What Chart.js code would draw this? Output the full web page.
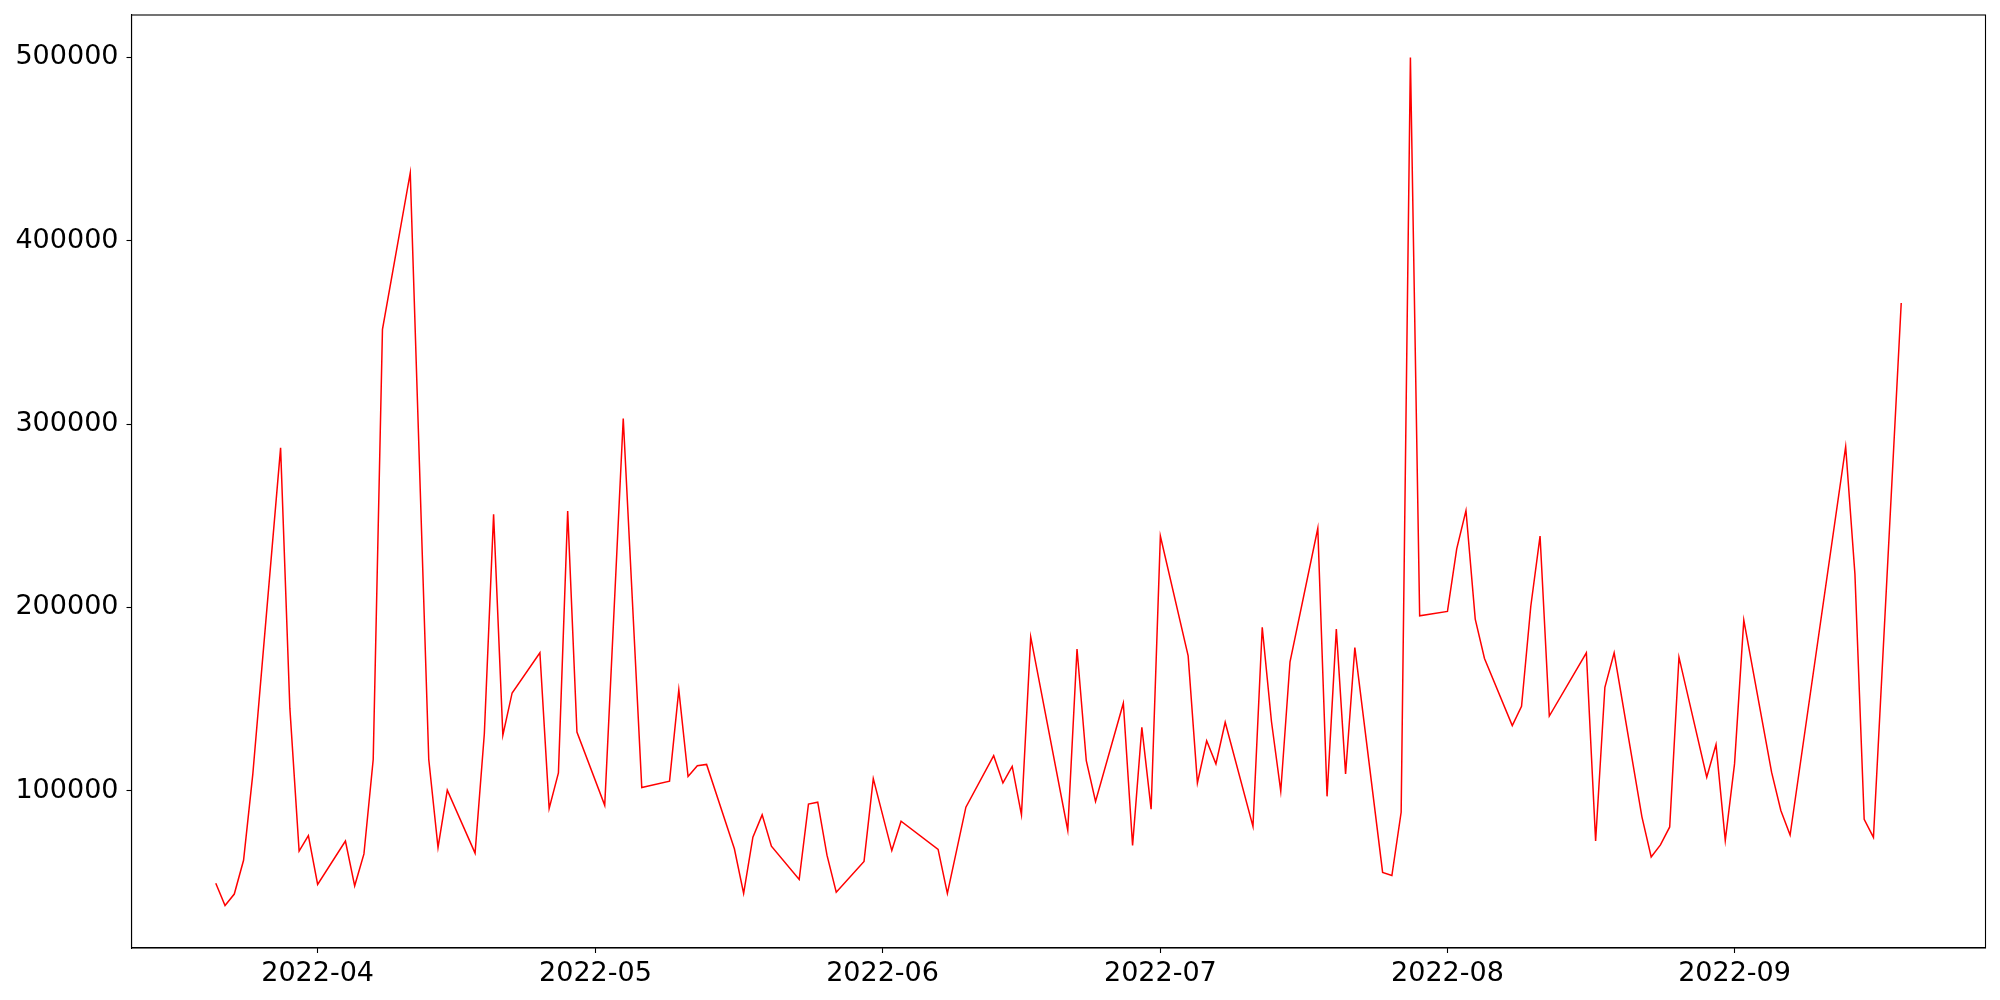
<!DOCTYPE html>
<html>
<head>
<meta charset="utf-8">
<script src="https://cdn.jsdelivr.net/npm/chart.js@4.4.0/dist/chart.umd.min.js"></script>
<style>
  html, body { margin: 0; padding: 0; background: #ffffff; }
  #wrap { width: 2000px; height: 1000px; }
</style>
</head>
<body>
<div id="wrap"><canvas id="c" width="2000" height="1000"></canvas></div>
<script>
const dates = [
  "2022-03-21","2022-03-22","2022-03-23","2022-03-24","2022-03-25","2022-03-28","2022-03-29","2022-03-30","2022-03-31","2022-04-01",
  "2022-04-04","2022-04-05","2022-04-06","2022-04-07","2022-04-08","2022-04-11","2022-04-13","2022-04-14","2022-04-15",
  "2022-04-18","2022-04-19","2022-04-20","2022-04-21","2022-04-22","2022-04-25","2022-04-26","2022-04-27","2022-04-28","2022-04-29",
  "2022-05-02","2022-05-04","2022-05-06","2022-05-09","2022-05-10","2022-05-11","2022-05-12","2022-05-13",
  "2022-05-16","2022-05-17","2022-05-18","2022-05-19","2022-05-20","2022-05-23","2022-05-24","2022-05-25","2022-05-26","2022-05-27",
  "2022-05-30","2022-05-31","2022-06-02","2022-06-03","2022-06-07","2022-06-08","2022-06-10",
  "2022-06-13","2022-06-14","2022-06-15","2022-06-16","2022-06-17","2022-06-21","2022-06-22","2022-06-23","2022-06-24",
  "2022-06-27","2022-06-28","2022-06-29","2022-06-30","2022-07-01","2022-07-04","2022-07-05","2022-07-06","2022-07-07","2022-07-08",
  "2022-07-11","2022-07-12","2022-07-13","2022-07-14","2022-07-15","2022-07-18","2022-07-19","2022-07-20","2022-07-21","2022-07-22",
  "2022-07-25","2022-07-26","2022-07-27","2022-07-28","2022-07-29","2022-08-01","2022-08-02","2022-08-03","2022-08-04","2022-08-05",
  "2022-08-08","2022-08-09","2022-08-10","2022-08-11","2022-08-12","2022-08-16","2022-08-17","2022-08-18","2022-08-19",
  "2022-08-22","2022-08-23","2022-08-24","2022-08-25","2022-08-26","2022-08-29","2022-08-30","2022-08-31","2022-09-01","2022-09-02",
  "2022-09-05","2022-09-06","2022-09-07","2022-09-13","2022-09-14","2022-09-15","2022-09-16","2022-09-19"
];
const values = [
  49500, 37300, 43600, 62000, 109000, 287000, 145000, 67000, 75500, 48800,
  72500, 48100, 65500, 117000, 351700, 437000, 117000, 69000, 100300,
  65900, 131000, 250700, 130300, 153300, 175200, 90300, 109700, 252500, 132000,
  92000, 303000, 101700, 105200, 155000, 107700, 113600, 114300,
  68300, 44000, 74600, 86800, 69700, 51600, 92700, 93700, 64800, 44600,
  61400, 106600, 67300, 83300, 68000, 44000, 91000,
  119100, 104200, 113200, 86800, 183900, 78400, 177300, 116400, 94100,
  147700, 70100, 134500, 89900, 238900, 173500, 104200, 127200, 114600, 137300,
  80500, 189100, 137600, 99700, 170300, 243100, 96900, 188100, 109100, 178000,
  55400, 53700, 88200, 500000, 195400, 197800, 231900, 252800, 193600, 172100,
  135500, 146000, 200600, 238900, 140700, 175200, 72500, 156400, 175200,
  85700, 63800, 70400, 80200, 172800, 107300, 125100, 72800, 114600, 193000,
  110100, 89200, 75800, 287600, 218200, 84400, 74500, 366000
];
const xTickLabels = ["2022-04","2022-05","2022-06","2022-07","2022-08","2022-09"];
const yTickValues = [100000, 200000, 300000, 400000, 500000];

const toTs = s => { const p = s.split("-").map(Number); return Date.UTC(p[0], p[1]-1, p[2] || 1); };
const points = dates.map((d, i) => ({ x: toTs(d), y: values[i] }));
const xTickValues = xTickLabels.map(toTs);

const xs = points.map(p => p.x), ys = values;
const xMin0 = Math.min(...xs), xMax0 = Math.max(...xs);
const yMin0 = Math.min(...ys), yMax0 = Math.max(...ys);
const xm = (xMax0 - xMin0) * 0.05, ym = (yMax0 - yMin0) * 0.05;

const fmtMonth = v => { const d = new Date(v); return d.getUTCFullYear() + "-" + String(d.getUTCMonth()+1).padStart(2,"0"); };

const frame = {
  id: "frame",
  afterDraw(chart) {
    const a = chart.chartArea, ctx = chart.ctx;
    ctx.save();
    ctx.strokeStyle = "#000";
    ctx.lineWidth = 1.1;
    ctx.strokeRect(a.left, a.top, a.right - a.left, a.bottom - a.top);
    ctx.restore();
  }
};

const font = { family: "'DejaVu Sans', sans-serif", size: 27 };

new Chart(document.getElementById("c"), {
  type: "line",
  data: {
    datasets: [{
      data: points,
      borderColor: "#ff0000",
      borderWidth: 1.5,
      pointRadius: 0,
      tension: 0,
      fill: false
    }]
  },
  options: {
    responsive: false,
    animation: false,
    devicePixelRatio: 1,
    layout: { padding: { top: 15, right: 14.5, left: 0, bottom: 0 } },
    plugins: { legend: { display: false }, tooltip: { enabled: false } },
    scales: {
      x: {
        type: "linear",
        min: xMin0 - xm,
        max: xMax0 + xm,
        afterBuildTicks: s => { s.ticks = xTickValues.map(v => ({ value: v })); },
        afterFit: s => { s.height = 52; s.paddingLeft = 0; s.paddingRight = 0; },
        ticks: {
          autoSkip: false, maxRotation: 0, minRotation: 0,
          color: "#000", font: font, padding: 5,
          callback: v => fmtMonth(v)
        },
        grid: { drawOnChartArea: false, drawTicks: true, tickLength: 5, color: "#000", tickWidth: 1.1 },
        border: { display: true, color: "#000", width: 1.1 }
      },
      y: {
        type: "linear",
        min: yMin0 - ym,
        max: yMax0 + ym,
        afterBuildTicks: s => { s.ticks = yTickValues.map(v => ({ value: v })); },
        afterFit: s => { s.width = 131.5; s.paddingTop = 0; s.paddingBottom = 0; },
        ticks: {
          color: "#000", font: font, padding: 8,
          callback: v => String(v)
        },
        grid: { drawOnChartArea: false, drawTicks: true, tickLength: 5, color: "#000", tickWidth: 1.1 },
        border: { display: true, color: "#000", width: 1.1 }
      }
    }
  },
  plugins: [frame]
});
</script>
</body>
</html>
